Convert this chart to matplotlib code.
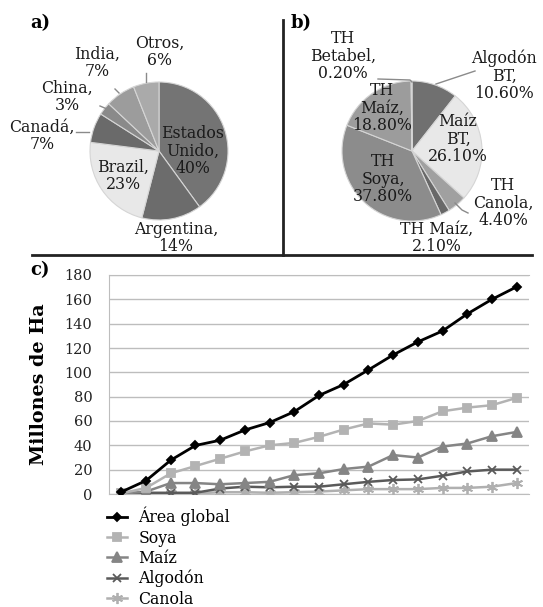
import matplotlib
matplotlib.use('Agg')
import matplotlib.pyplot as plt
import numpy as np

W, H = 543, 607

# a) share of GM area by country
paises = ['Estados\nUnido', 'Argentina', 'Brazil', 'Canadá', 'China', 'India', 'Otros']
paises_pct = [40, 14, 23, 7, 3, 7, 6]
paises_col = ['#747474', '#6c6c6c', '#e8e8e8', '#6a6a6a', '#8a8a8a', '#9c9c9c', '#aaaaaa']

# b) share by crop / trait
cultivos = ['Algodón\nBT', 'Maíz\nBT', 'TH\nCanola', 'TH Maíz', 'TH\nSoya', 'TH\nMaíz', 'TH\nBetabel']
cultivos_pct = [10.6, 26.1, 4.4, 2.1, 37.8, 18.8, 0.2]
cultivos_col = ['#707070', '#e8e8e8', '#a0a0a0', '#686868', '#8c8c8c', '#9c9c9c', '#bdbdbd']

# c) area per year (millions of ha), 1996-2012
anios = list(range(1996, 2013))
area_global = [1.7, 11, 27.8, 39.9, 44.2, 52.6, 58.7, 67.7, 81, 90, 102, 114.3, 125, 134, 148, 160, 170.3]
soya = [0.5, 5, 17, 23, 29, 35, 40, 42, 47, 53, 58, 57, 60, 68, 71, 73, 79]
maiz = [0.3, 2, 9, 9, 8, 9, 10, 15.5, 17, 20.5, 22.5, 32, 30, 39, 41.5, 47.5, 51]
algodon = [0.5, 1, 1, 1, 4.5, 6, 5.5, 6, 6, 8, 10, 11.5, 12, 15, 18.5, 20, 20]
canola = [0.1, 0.3, 0.5, 0.5, 1.5, 1.5, 1, 1.5, 2, 3, 4, 4, 4, 5, 5, 6, 9]

plt.rcParams['font.family'] = ['DejaVu Serif']
plt.rcParams['font.size'] = 10

fig = plt.figure(figsize=(W / 100, H / 100), dpi=100)


def box(x0, y0, x1, y1):
    # pixel box (top-left origin) -> figure fraction rect
    return [x0 / W, 1 - y1 / H, (x1 - x0) / W, (y1 - y0) / H]


def pie_axes(cx, cy, r, vals, cols):
    ax = fig.add_axes(box(cx - r, cy - r, cx + r, cy + r))
    ax.pie(vals, colors=cols, startangle=90, counterclock=False, radius=1,
           wedgeprops=dict(edgecolor='#d5d5d5', linewidth=0.8))
    ax.set_xlim(-1, 1)
    ax.set_ylim(-1, 1)
    ax.set_aspect('equal')
    ax.axis('off')
    return ax


pie_axes(159, 151, 69, paises_pct, paises_col)
pie_axes(412, 151, 70, cultivos_pct, cultivos_col)

# overlay in pixel units for labels, leader lines and separators
ov = fig.add_axes([0, 0, 1, 1], zorder=5)
ov.set_xlim(0, W)
ov.set_ylim(H, 0)
ov.axis('off')
ov.patch.set_alpha(0)


def fmt_pct(v, dec):
    return f'{v:.2f}%' if dec else f'{v:g}%'


lab_fs = 11.3
pos_a = [(193, 151), (176, 238), (123, 176), (42, 136), (67, 97), (97, 63), (160, 52)]
for name, v, (x, y) in zip(paises, paises_pct, pos_a):
    ov.text(x, y, f'{name},\n{fmt_pct(v, False)}', ha='center', va='center',
            linespacing=1.05, color='#1a1a1a', fontsize=lab_fs)

pos_b = [(504, 76), (458, 139), (503, 203), (437, 238), (383, 179), (382, 108), (343, 56)]
for name, v, (x, y) in zip(cultivos, cultivos_pct, pos_b):
    ov.text(x, y, f'{name},\n{fmt_pct(v, True)}', ha='center', va='center',
            linespacing=1.05, color='#1a1a1a', fontsize=lab_fs)

lead = '#8a8a8a'
for xs, ys in [([76, 89], [132, 132]), ([100, 107], [106, 109]),
               ([115, 119], [89, 93]), ([146, 146], [73, 82]),
               ([378, 410, 412], [79, 80, 82]), ([436, 475], [84, 71]),
               ([455, 462, 468], [203, 210, 213])]:
    ov.plot(xs, ys, color=lead, lw=1)

ov.plot([32, 532], [255, 255], color='#222222', lw=2)
ov.plot([283, 283], [20, 255], color='#222222', lw=2)

ov.text(30, 23, 'a)', fontsize=13, fontweight='bold', va='center')
ov.text(291, 23, 'b)', fontsize=13, fontweight='bold', va='center')
ov.text(30, 270, 'c)', fontsize=13, fontweight='bold', va='center')

# c) line chart
ax = fig.add_axes(box(109, 275, 529, 494))
x = np.arange(len(anios))
series = [
    ('Área global', area_global, '#000000', 'D', 4.5, 2.0),
    ('Soya', soya, '#b3b3b3', 's', 6, 1.8),
    ('Maíz', maiz, '#858585', '^', 6.5, 1.8),
    ('Algodón', algodon, '#5a5a5a', 'x', 6, 1.8),
    ('Canola', canola, '#b0b0b0', (6, 2, 0), 8, 1.8),
]
for i, (lab, vals, col, mk, ms, lw) in enumerate(series):
    ax.plot(x, vals, color=col, marker=mk, ms=ms, lw=lw, mew=1.3,
            label=lab, zorder=10 - i)

ax.set_xlim(-0.5, len(anios) - 0.5)
ax.set_ylim(0, 180)
ax.set_yticks(range(0, 181, 20))
ax.set_xticks([])
ax.tick_params(axis='y', length=0, pad=12, labelsize=10.5, labelcolor='#222222')
ax.grid(axis='y', color='#bdbdbd', lw=1)
ax.set_axisbelow(True)
ax.spines['right'].set_visible(False)
for s in ['left', 'bottom', 'top']:
    ax.spines[s].set_color('#bdbdbd')
ax.set_ylabel('Millones de Ha', fontsize=13.8, fontweight='bold', labelpad=12)

ax.legend(loc='upper left', bbox_to_anchor=(107 / W, 1 - 507 / H),
          bbox_transform=fig.transFigure, frameon=False, borderpad=0,
          borderaxespad=0, handlelength=1.3, handletextpad=0.7,
          labelspacing=0.2, fontsize=11.3)

fig.savefig('out.png', dpi=100)
